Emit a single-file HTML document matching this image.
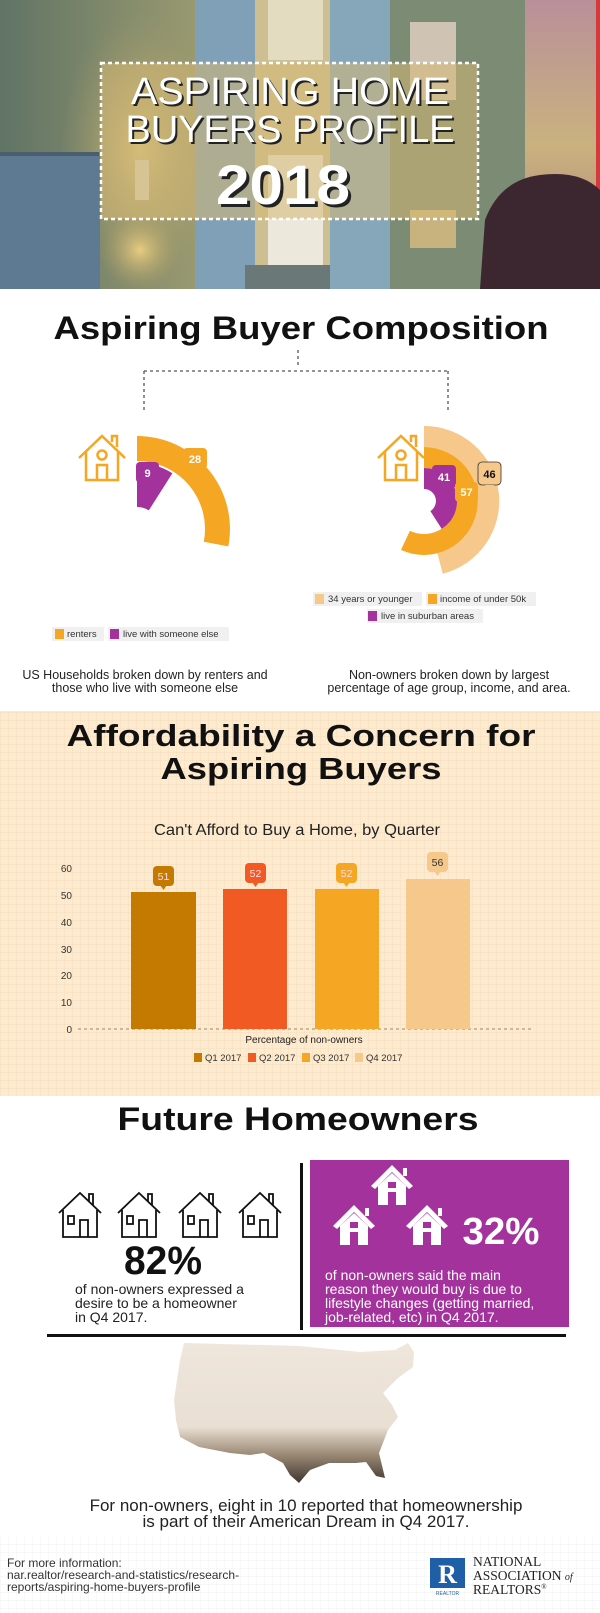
<!DOCTYPE html>
<html><head><meta charset="utf-8"><style>
html,body{margin:0;padding:0;background:#fff;}
svg{display:block;font-family:"Liberation Sans",sans-serif;}
</style></head><body>
<svg width="600" height="1613" viewBox="0 0 600 1613" xmlns="http://www.w3.org/2000/svg">
<defs>
<pattern id="grid" width="8" height="8" patternUnits="userSpaceOnUse">
<path d="M8 0H0V8" fill="none" stroke="#f3d9b4" stroke-width="0.7"/></pattern>
<pattern id="grid2" width="8" height="8" patternUnits="userSpaceOnUse">
<path d="M8 0H0V8" fill="none" stroke="#eeeeee" stroke-width="0.7"/></pattern>
<linearGradient id="wallL" x1="0" y1="0" x2="1" y2="0"><stop offset="0" stop-color="#607465"/><stop offset="1" stop-color="#9a9a70"/></linearGradient>
<radialGradient id="lamp" cx="0.5" cy="0.5" r="0.5"><stop offset="0" stop-color="#e8cc80"/><stop offset="1" stop-color="#a89a66" stop-opacity="0"/></radialGradient>
<linearGradient id="sky" x1="0" y1="0" x2="0" y2="1"><stop offset="0" stop-color="#b98f9a"/><stop offset="0.5" stop-color="#c9b27f"/><stop offset="1" stop-color="#b07a78"/></linearGradient>
<linearGradient id="map" x1="0" y1="0" x2="0" y2="1"><stop offset="0" stop-color="#efe6dc"/><stop offset="0.6" stop-color="#e9dfd3"/><stop offset="0.8" stop-color="#9a8874"/><stop offset="1" stop-color="#3e3630"/></linearGradient>
</defs>

<!-- HEADER PHOTO -->
<rect x="0" y="0" width="600" height="289" fill="#70806c"/>
<rect x="0" y="0" width="200" height="289" fill="url(#wallL)"/>
<ellipse cx="140" cy="150" rx="80" ry="140" fill="url(#lamp)" opacity="0.8"/>
<rect x="0" y="155" width="100" height="134" fill="#5d7a92"/>
<rect x="0" y="152" width="100" height="4" fill="#4a5e6e"/>
<ellipse cx="140" cy="250" rx="40" ry="40" fill="url(#lamp)"/>
<rect x="135" y="160" width="14" height="40" fill="#d8d2bc"/>
<rect x="195" y="0" width="60" height="289" fill="#7fa0b6"/>
<rect x="255" y="0" width="75" height="289" fill="#cdbf91"/>
<rect x="268" y="0" width="55" height="60" fill="#e4dcc0"/>
<rect x="268" y="155" width="55" height="110" fill="#ece8dc"/>
<rect x="245" y="265" width="100" height="24" fill="#6a7878"/>
<rect x="330" y="0" width="60" height="289" fill="#86a6ba"/>
<rect x="390" y="0" width="135" height="289" fill="#7b8b74"/>
<rect x="410" y="22" width="46" height="78" fill="#cfc3b3"/>
<rect x="410" y="210" width="46" height="38" fill="#c8b37e"/>
<rect x="525" y="0" width="75" height="289" fill="url(#sky)"/>
<rect x="596" y="0" width="4" height="289" fill="#d43a3a"/>
<path d="M480 289 L485 220 Q500 180 540 175 Q580 170 600 190 L600 289 Z" fill="#3c2630"/>
<rect x="101" y="63" width="377" height="156" fill="#d6b874" opacity="0.55"/>
<rect x="101" y="63" width="377" height="156" fill="none" stroke="#fff" stroke-width="2.5" stroke-dasharray="4 3"/>
<g font-size="38" text-anchor="middle">
<text x="292" y="106" fill="#222" textLength="318" lengthAdjust="spacingAndGlyphs">ASPIRING HOME</text>
<text x="292" y="144" fill="#222" textLength="329" lengthAdjust="spacingAndGlyphs">BUYERS PROFILE</text>
<text x="290" y="104" fill="#fff" textLength="318" lengthAdjust="spacingAndGlyphs">ASPIRING HOME</text>
<text x="290" y="142" fill="#fff" textLength="329" lengthAdjust="spacingAndGlyphs">BUYERS PROFILE</text>
</g>
<text x="286" y="207" font-size="56" font-weight="bold" fill="#222" text-anchor="middle" textLength="134" lengthAdjust="spacingAndGlyphs">2018</text>
<text x="283" y="204" font-size="56" font-weight="bold" fill="#fff" text-anchor="middle" textLength="134" lengthAdjust="spacingAndGlyphs">2018</text>

<!-- SECTION 1 -->
<text x="301" y="339" font-size="32" font-weight="bold" fill="#111" text-anchor="middle" textLength="495" lengthAdjust="spacingAndGlyphs">Aspiring Buyer Composition</text>
<g stroke="#555" stroke-width="1.3" stroke-dasharray="3 3" fill="none">
<path d="M298 350V367"/><path d="M144 371H448"/><path d="M144 371V413"/><path d="M448 371V413"/>
</g>
<g fill="none" stroke="#f5a623" stroke-width="2.5">
<path d="M79 458 L102 436 L125 458"/><path d="M86 452V480H118V452"/><path d="M97 480V465H107V480"/><circle cx="102" cy="455" r="4.5"/><path d="M112 442V436H117V447"/>
</g>
<path d="M137,436 A93,93 0 0 1 228.3,546.4 L203.8,541.7 A68,68 0 0 0 137,461 Z" fill="#f5a623"/>
<path d="M137,463 A66,66 0 0 1 172.4,473.3 L148.8,510.4 A22,22 0 0 0 137,507 Z" fill="#a4329c"/>
<g>
<rect x="183" y="448" width="24" height="21" rx="4" fill="#f5a623"/><path d="M191 468 L195 473 L199 468Z" fill="#f5a623"/>
<text x="195" y="463" font-size="11" font-weight="bold" fill="#fff" text-anchor="middle">28</text>
<rect x="136" y="462" width="23" height="21" rx="4" fill="#a4329c"/><path d="M143 482 L147.5 488 L152 482Z" fill="#a4329c"/>
<text x="147.5" y="477" font-size="11" font-weight="bold" fill="#fff" text-anchor="middle">9</text>
</g>
<g fill="none" stroke="#f5a623" stroke-width="2.5">
<path d="M378 458 L401 436 L424 458"/><path d="M385 452V480H417V452"/><path d="M396 480V465H406V480"/><circle cx="401" cy="455" r="4.5"/><path d="M411 442V436H416V447"/>
</g>
<path d="M424,426 A75,75 0 0 1 442.7,573.7 L437.4,553.3 A54,54 0 0 0 424,447 Z" fill="#f7c88c"/>
<path d="M424,447 A54,54 0 1 1 401,549.9 L409.9,530.9 A33,33 0 1 0 424,468 Z" fill="#f5a623"/>
<path d="M424,468 A33,33 0 0 1 441.7,528.9 L430.4,511.1 A12,12 0 0 0 424,489 Z" fill="#a4329c"/>
<rect x="478" y="462" width="23" height="23" rx="4" fill="#f7c88c" stroke="#333" stroke-width="0.8"/><path d="M485 485 L489.5 491 L494 485Z" fill="#f7c88c"/>
<text x="489.5" y="478" font-size="11" font-weight="bold" fill="#111" text-anchor="middle">46</text>
<rect x="432" y="465" width="24" height="23" rx="4" fill="#a4329c"/><path d="M440 487 L444 493 L448 487Z" fill="#a4329c"/>
<text x="444" y="481" font-size="11" font-weight="bold" fill="#fff" text-anchor="middle">41</text>
<rect x="455" y="482" width="23" height="20" rx="4" fill="#f5a623"/><path d="M462 501 L466.5 506 L471 501Z" fill="#f5a623"/>
<text x="466.5" y="496" font-size="11" font-weight="bold" fill="#fff" text-anchor="middle">57</text>
<g font-size="9.5" fill="#333">
<rect x="52" y="627" width="52" height="14" fill="#f0f0f0"/><rect x="55" y="629" width="9" height="10" fill="#f5a623"/><text x="67" y="637">renters</text>
<rect x="108" y="627" width="121" height="14" fill="#f0f0f0"/><rect x="110" y="629" width="9" height="10" fill="#a4329c"/><text x="123" y="637">live with someone else</text>
<rect x="313" y="592" width="109" height="14" fill="#f0f0f0"/><rect x="315" y="594" width="9" height="10" fill="#f7c88c"/><text x="328" y="602">34 years or younger</text>
<rect x="426" y="592" width="110" height="14" fill="#f0f0f0"/><rect x="428" y="594" width="9" height="10" fill="#f5a623"/><text x="440" y="602">income of under 50k</text>
<rect x="367" y="609" width="116" height="14" fill="#f0f0f0"/><rect x="368" y="611" width="9" height="10" fill="#a4329c"/><text x="381" y="619">live in suburban areas</text>
</g>
<g font-size="12.5" fill="#222" text-anchor="middle">
<text x="145" y="679">US Households broken down by renters and</text>
<text x="145" y="692">those who live with someone else</text>
<text x="449" y="679">Non-owners broken down by largest</text>
<text x="449" y="692">percentage of age group, income, and area.</text>
</g>

<!-- SECTION 2 -->
<rect x="0" y="711" width="600" height="385" fill="#fdebd0"/>
<rect x="0" y="711" width="600" height="385" fill="url(#grid)"/>
<text x="301" y="746" font-size="31" font-weight="bold" fill="#111" text-anchor="middle" textLength="469" lengthAdjust="spacingAndGlyphs">Affordability a Concern for</text>
<text x="301" y="779" font-size="31" font-weight="bold" fill="#111" text-anchor="middle" textLength="281" lengthAdjust="spacingAndGlyphs">Aspiring Buyers</text>
<text x="297" y="835" font-size="16" fill="#222" text-anchor="middle" textLength="286" lengthAdjust="spacingAndGlyphs">Can't Afford to Buy a Home, by Quarter</text>
<g font-size="10" fill="#333" text-anchor="end">
<text x="72" y="872">60</text><text x="72" y="899">50</text><text x="72" y="926">40</text><text x="72" y="953">30</text><text x="72" y="979">20</text><text x="72" y="1006">10</text><text x="72" y="1033">0</text>
</g>
<path d="M78 1029H534" stroke="#b09a80" stroke-width="1.2" stroke-dasharray="3 3"/>
<rect x="131" y="892" width="65" height="137" fill="#c47a00"/>
<rect x="223" y="889" width="64" height="140" fill="#f15a22"/>
<rect x="315" y="889" width="64" height="140" fill="#f5a623"/>
<rect x="406" y="879" width="64" height="150" fill="#f7c88c"/>
<g font-size="10.5" text-anchor="middle">
<rect x="153" y="866" width="21" height="20" rx="4" fill="#c47a00"/><path d="M160 885L163.5 890L167 885Z" fill="#c47a00"/><text x="163.5" y="880" fill="#fde">51</text>
<rect x="245" y="863" width="21" height="20" rx="4" fill="#f15a22"/><path d="M252 882L255.5 887L259 882Z" fill="#f15a22"/><text x="255.5" y="877" fill="#fde">52</text>
<rect x="336" y="863" width="21" height="20" rx="4" fill="#f5a623"/><path d="M343 882L346.5 887L350 882Z" fill="#f5a623"/><text x="346.5" y="877" fill="#fde">52</text>
<rect x="427" y="852" width="21" height="20" rx="4" fill="#f7c88c"/><path d="M434 871L437.5 876L441 871Z" fill="#f7c88c"/><text x="437.5" y="866" fill="#333">56</text>
</g>
<text x="304" y="1043" font-size="10" fill="#222" text-anchor="middle">Percentage of non-owners</text>
<g font-size="9.5" fill="#333">
<rect x="194" y="1053" width="8" height="9" fill="#c47a00"/><text x="205" y="1061">Q1 2017</text>
<rect x="248" y="1053" width="8" height="9" fill="#f15a22"/><text x="259" y="1061">Q2 2017</text>
<rect x="302" y="1053" width="8" height="9" fill="#f5a623"/><text x="313" y="1061">Q3 2017</text>
<rect x="355" y="1053" width="8" height="9" fill="#f7c88c"/><text x="366" y="1061">Q4 2017</text>
</g>

<!-- SECTION 3 -->
<text x="298" y="1130" font-size="32" font-weight="bold" fill="#111" text-anchor="middle" textLength="361" lengthAdjust="spacingAndGlyphs">Future Homeowners</text>
<rect x="300" y="1163" width="3" height="167" fill="#111"/>
<rect x="310" y="1160" width="259" height="167" fill="#a4329c"/>
<rect x="47" y="1334" width="519" height="3" fill="#111"/>
<g fill="none" stroke="#111" stroke-width="1.8">
<g id="h1"><path d="M59 1213 L80 1193 L101 1213"/><path d="M63 1210V1237H97V1210"/><rect x="68" y="1216" width="6" height="8"/><path d="M80 1237V1220H88V1237"/><path d="M89 1201V1194H93V1205"/></g>
<use href="#h1" x="59"/><use href="#h1" x="120"/><use href="#h1" x="180"/>
</g>
<text x="163" y="1274" font-size="40" font-weight="bold" fill="#111" text-anchor="middle" textLength="78" lengthAdjust="spacingAndGlyphs">82%</text>
<g font-size="14" fill="#222">
<text x="75" y="1294">of non-owners expressed a</text>
<text x="75" y="1308">desire to be a homeowner</text>
<text x="75" y="1322">in Q4 2017.</text>
</g>
<g fill="#fff">
<g id="h2"><path d="M371 1186 L392 1165 L413 1186 L409 1189 L392 1172 L375 1189Z"/><path d="M378 1186 L392 1173 L406 1186V1205H378Z"/><rect x="403" y="1168" width="4" height="8"/></g>
<use href="#h2" x="-38" y="40"/><use href="#h2" x="35" y="40"/>
</g>
<g fill="#a4329c"><rect x="388" y="1182" width="8" height="6"/><rect x="388" y="1192" width="8" height="13"/>
<rect x="350" y="1222" width="8" height="6"/><rect x="350" y="1232" width="8" height="13"/>
<rect x="423" y="1222" width="8" height="6"/><rect x="423" y="1232" width="8" height="13"/></g>
<text x="501" y="1244" font-size="38" font-weight="bold" fill="#fff" text-anchor="middle" textLength="77" lengthAdjust="spacingAndGlyphs">32%</text>
<g font-size="14" fill="#fff">
<text x="325" y="1280">of non-owners said the main</text>
<text x="325" y="1294">reason they would buy is due to</text>
<text x="325" y="1308">lifestyle changes (getting married,</text>
<text x="325" y="1322">job-related, etc) in Q4 2017.</text>
</g>
<path d="M184 1343 L300 1346 L360 1352 L395 1350 L408 1343 L414 1352 L413 1367 L398 1378 L383 1393 L392 1405 L398 1417 L388 1430 L379 1453 L385 1478 L376 1476 L366 1462 L356 1463 L329 1463 L310 1470 L299 1483 L290 1475 L283 1463 L264 1453 L250 1455 L230 1453 L199 1447 L180 1437 L176 1420 L174 1400 L177 1380 L180 1360 Z" fill="url(#map)"/>
<g font-size="17" fill="#222" text-anchor="middle">
<text x="306" y="1511">For non-owners, eight in 10 reported that homeownership</text>
<text x="306" y="1527">is part of their American Dream in Q4 2017.</text>
</g>
<rect x="0" y="1537" width="600" height="76" fill="url(#grid2)"/>
<g font-size="12" fill="#333">
<text x="7" y="1567">For more information:</text>
<text x="7" y="1579">nar.realtor/research-and-statistics/research-</text>
<text x="7" y="1591">reports/aspiring-home-buyers-profile</text>
</g>
<rect x="430" y="1558" width="35" height="30" fill="#1e5fa8"/>
<text x="447.5" y="1583" font-size="26" font-weight="bold" fill="#fff" text-anchor="middle" font-family="Liberation Serif">R</text>
<text x="447.5" y="1595" font-size="5" fill="#1e5fa8" text-anchor="middle">REALTOR</text>
<g font-family="Liberation Serif" font-size="13.5" fill="#222">
<text x="473" y="1566">NATIONAL</text>
<text x="473" y="1580">ASSOCIATION <tspan font-style="italic" font-size="10">of</tspan></text>
<text x="473" y="1594">REALTORS<tspan font-size="7" dy="-5">®</tspan></text>
</g>
</svg>
</body></html>
